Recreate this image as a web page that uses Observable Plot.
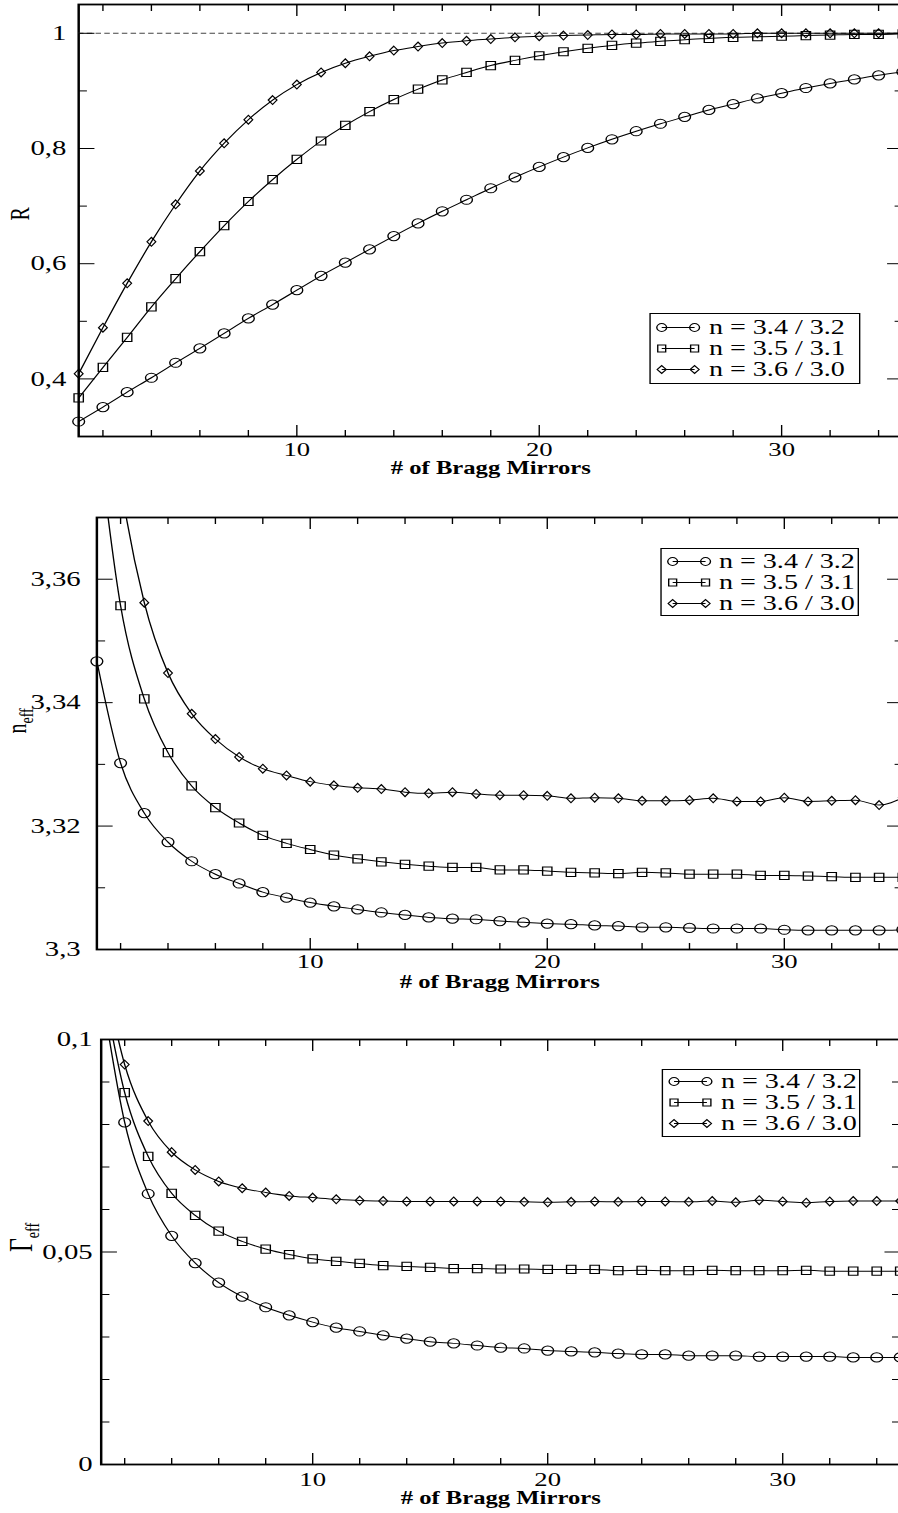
<!DOCTYPE html>
<html>
<head>
<meta charset="utf-8">
<script src="https://cdn.jsdelivr.net/npm/d3@7"></script>
<script src="https://cdn.jsdelivr.net/npm/@observablehq/plot@0.6"></script>
<style>
  html, body { margin: 0; padding: 0; background: #fff; overflow: hidden; }
  /* the whole figure is drawn narrow, then widened horizontally */
  #fig { width: 659px; transform: scaleX(1.37); transform-origin: 0 0; font-family: "Liberation Serif", serif; }
  .panel { position: relative; }
  .panel svg { display: block; }
  .legend { position: absolute; box-sizing: border-box; border: 1.3px solid #000; background: #fff;
            font-size: 20.5px; line-height: 21px; color: #000; }
  .legend .row { display: flex; align-items: center; height: 21px; white-space: nowrap; }
  .legend svg { display: block; flex: none; }
</style>
</head>
<body>
<div id="fig"></div>
<script>
const STRETCH = 1.37;
const WIDTH = 659;

// number of Bragg mirror pairs
const mirrors = [1,2,3,4,5,6,7,8,9,10,11,12,13,14,15,16,17,18,19,20,21,22,23,24,25,26,27,28,29,30,31,32,33,34,35];
const seriesLabels = ["n = 3.4 / 3.2", "n = 3.5 / 3.1", "n = 3.6 / 3.0"];

// reflectivity R
const R_34_32 = [0.326,0.351,0.377,0.402,0.428,0.453,0.479,0.505,0.529,0.554,0.579,0.602,0.625,0.648,0.670,0.691,0.711,0.731,0.750,0.768,0.785,0.801,0.816,0.830,0.843,0.855,0.867,0.877,0.887,0.896,0.905,0.913,0.920,0.927,0.933];
const R_35_31 = [0.367,0.420,0.472,0.525,0.574,0.621,0.666,0.708,0.746,0.781,0.813,0.840,0.864,0.885,0.903,0.919,0.932,0.944,0.953,0.961,0.968,0.974,0.979,0.983,0.986,0.989,0.991,0.993,0.994,0.995,0.996,0.997,0.998,0.998,0.999];
const R_36_30 = [0.409,0.489,0.566,0.638,0.703,0.761,0.809,0.850,0.884,0.911,0.932,0.948,0.960,0.970,0.977,0.983,0.987,0.990,0.993,0.995,0.996,0.997,0.998,0.998,0.999,0.999,0.999,0.999,1.000,1.000,1.000,1.000,1.000,1.000,1.000];

// effective index n_eff
const N_34_32 = [3.3467,3.3302,3.3221,3.3174,3.3143,3.3122,3.3107,3.3093,3.3084,3.3076,3.3070,3.3065,3.3060,3.3056,3.3052,3.3050,3.3049,3.3046,3.3044,3.3042,3.3041,3.3039,3.3038,3.3036,3.3036,3.3035,3.3034,3.3034,3.3034,3.3032,3.3031,3.3031,3.3031,3.3031,3.3032];
const N_35_31 = [3.385,3.3557,3.3406,3.3319,3.3265,3.3230,3.3205,3.3185,3.3172,3.3162,3.3153,3.3147,3.3142,3.3138,3.3135,3.3133,3.3133,3.3129,3.3129,3.3127,3.3125,3.3124,3.3123,3.3125,3.3124,3.3122,3.3122,3.3122,3.3120,3.3120,3.3119,3.3118,3.3117,3.3117,3.3117];
const N_36_30 = [3.41,3.3758,3.3562,3.3448,3.3382,3.3341,3.3312,3.3293,3.3282,3.3272,3.3266,3.3262,3.3260,3.3255,3.3253,3.3255,3.3252,3.3250,3.3250,3.3249,3.3245,3.3246,3.3245,3.3241,3.3241,3.3242,3.3245,3.3240,3.3240,3.3246,3.3240,3.3241,3.3242,3.3234,3.3246];

// effective confinement Gamma_eff
const G_34_32 = [0.112,0.0805,0.0637,0.0538,0.0474,0.0428,0.0395,0.0370,0.0351,0.0335,0.0322,0.0313,0.0304,0.0296,0.0289,0.0285,0.0280,0.0275,0.0273,0.0268,0.0266,0.0264,0.0261,0.0259,0.0259,0.0256,0.0256,0.0256,0.0254,0.0254,0.0254,0.0254,0.0252,0.0252,0.0252];
const G_35_31 = [0.115,0.0875,0.0725,0.0638,0.0586,0.0549,0.0525,0.0507,0.0494,0.0484,0.0478,0.0473,0.0468,0.0466,0.0464,0.0461,0.0461,0.0460,0.0460,0.0459,0.0459,0.0459,0.0456,0.0457,0.0456,0.0456,0.0457,0.0456,0.0456,0.0456,0.0457,0.0455,0.0455,0.0455,0.0455];
const G_36_30 = [0.119,0.0941,0.0808,0.0735,0.0693,0.0666,0.0650,0.0640,0.0632,0.0628,0.0624,0.0621,0.0620,0.0619,0.0619,0.0619,0.0619,0.0619,0.0618,0.0617,0.0618,0.0619,0.0618,0.0619,0.0619,0.0618,0.0620,0.0617,0.0622,0.0619,0.0616,0.0619,0.0620,0.0620,0.0620];

// tick values
const xMajor = [10, 20, 30];
const xMinor = [2, 4, 6, 8, 12, 14, 16, 18, 22, 24, 26, 28, 32, 34];
const rMajor = [0.4, 0.6, 0.8, 1];
const rMinor = [0.5, 0.7, 0.9];
const nMajor = [3.3, 3.32, 3.34, 3.36];
const nMinor = [3.31, 3.33, 3.35];
const gMajor = [0, 0.05, 0.1];
const gMinor = [0.01, 0.02, 0.03, 0.04, 0.06, 0.07, 0.08, 0.09];

const xTitle = "# of Bragg Mirrors";

// hollow marker shapes
function ellipseSym(rx, ry) {
  const k = 0.5523;
  return { draw(c) {
    c.moveTo(rx, 0);
    c.bezierCurveTo(rx, ry * k, rx * k, ry, 0, ry);
    c.bezierCurveTo(-rx * k, ry, -rx, ry * k, -rx, 0);
    c.bezierCurveTo(-rx, -ry * k, -rx * k, -ry, 0, -ry);
    c.bezierCurveTo(rx * k, -ry, rx, -ry * k, rx, 0);
    c.closePath();
  }};
}
function rectSym(hw, hh) {
  return { draw(c) { c.moveTo(-hw, -hh); c.lineTo(hw, -hh); c.lineTo(hw, hh); c.lineTo(-hw, hh); c.closePath(); } };
}
function diamondSym(hw, hh) {
  return { draw(c) { c.moveTo(0, -hh); c.lineTo(hw, 0); c.lineTo(0, hh); c.lineTo(-hw, 0); c.closePath(); } };
}
const plotSymbols = [ellipseSym(4.3, 4.6), rectSym(3.4, 4.1), diamondSym(3.2, 4.4)];
const legendSymbols = [ellipseSym(3.6, 3.9), rectSym(2.9, 3.4), diamondSym(3.3, 3.9)];

const fmtComma = d => String(d).replace(".", ",");

function drawPanel(cfg) {
  const rows = [];
  cfg.series.forEach((vals, k) => vals.forEach((v, i) => rows.push({ m: mirrors[i], v, k })));
  const [y0, y1] = cfg.yDomain;
  const visible = rows.filter(d => d.v >= y0 && d.v <= y1);

  const marks = [
    Plot.frame({ stroke: "black", strokeWidth: 1.8 }),
    cfg.refLine != null ? Plot.ruleY([cfg.refLine], { stroke: "#444", strokeWidth: 1, strokeDasharray: "4,2.4" }) : null,
    // inward ticks on all four sides
    ...["bottom", "top"].flatMap(a => [
      Plot.axisX(xMajor, { anchor: a, tickSize: -11, fill: "none", label: null }),
      Plot.axisX(xMinor, { anchor: a, tickSize: -6, fill: "none", label: null })
    ]),
    ...["left", "right"].flatMap(a => [
      Plot.axisY(cfg.yMajor, { anchor: a, tickSize: -12, fill: "none", label: null }),
      Plot.axisY(cfg.yMinor, { anchor: a, tickSize: -6.5, fill: "none", label: null })
    ]),
    // tick labels
    Plot.axisX(xMajor, { anchor: "bottom", tickSize: 0, tickPadding: cfg.xPad, fontSize: 19.5, label: null }),
    Plot.axisY(cfg.yMajor, { anchor: "left", tickSize: 0, tickPadding: cfg.yPad, tickFormat: fmtComma, fontSize: 21, label: null }),
    // curves and markers
    Plot.line(rows, { x: "m", y: "v", z: "k", curve: "monotone-x", stroke: "black", strokeWidth: 1, clip: true }),
    ...plotSymbols.map((sym, k) => Plot.dot(visible.filter(d => d.k === k),
      { x: "m", y: "v", symbol: sym, stroke: "black", fill: "none", strokeWidth: 1 })),
    // axis titles
    Plot.text([xTitle], { text: d => d, frameAnchor: "bottom", dy: cfg.titleDy, fontWeight: "bold", fontSize: 18 }),
    Plot.text([cfg.yTitle + cfg.yTitleSub], { text: d => d, frameAnchor: "left", rotate: -90, dx: cfg.yTitleDx, fontSize: cfg.yTitleSize })
  ].filter(Boolean);

  const svg = Plot.plot({
    width: WIDTH,
    height: cfg.height,
    marginTop: cfg.mt, marginBottom: cfg.mb, marginLeft: cfg.ml, marginRight: cfg.mr,
    x: { domain: [1, 35] },
    y: { domain: cfg.yDomain },
    style: { fontFamily: '"Liberation Serif", serif', color: "black", background: "white" },
    marks
  });

  // subscript on the vertical title
  if (cfg.yTitleSub) {
    for (const t of svg.querySelectorAll("text")) {
      if (t.textContent === cfg.yTitle + cfg.yTitleSub) {
        t.textContent = "";
        const main = document.createElementNS("http://www.w3.org/2000/svg", "tspan");
        main.textContent = cfg.yTitle;
        const sub = document.createElementNS("http://www.w3.org/2000/svg", "tspan");
        sub.textContent = cfg.yTitleSub;
        sub.setAttribute("font-size", "14");
        sub.setAttribute("dy", "5");
        t.append(main, sub);
      }
    }
  }

  const wrap = document.createElement("div");
  wrap.className = "panel";
  wrap.style.height = cfg.height + "px";
  wrap.append(svg);

  // legend box
  const lg = cfg.legend;
  const box = document.createElement("div");
  box.className = "legend";
  box.style.left = (lg.left / STRETCH) + "px";
  box.style.width = ((lg.right - lg.left) / STRETCH) + "px";
  box.style.top = lg.top + "px";
  box.style.height = (lg.bottom - lg.top) + "px";
  box.style.paddingTop = lg.padTop + "px";
  seriesLabels.forEach((label, k) => {
    const row = document.createElement("div");
    row.className = "row";
    const p = d3.path();
    legendSymbols[k].draw(p);
    const d = p.toString();
    const ns = "http://www.w3.org/2000/svg";
    const s = document.createElementNS(ns, "svg");
    s.setAttribute("width", 42); s.setAttribute("height", 21);
    const ln = document.createElementNS(ns, "line");
    ln.setAttribute("x1", 8); ln.setAttribute("x2", 32); ln.setAttribute("y1", 10.5); ln.setAttribute("y2", 10.5);
    ln.setAttribute("stroke", "black"); ln.setAttribute("stroke-width", 1);
    s.append(ln);
    for (const cx of [8, 32]) {
      const pa = document.createElementNS(ns, "path");
      pa.setAttribute("d", d);
      pa.setAttribute("transform", `translate(${cx},10.5)`);
      pa.setAttribute("fill", "none"); pa.setAttribute("stroke", "black"); pa.setAttribute("stroke-width", 1);
      s.append(pa);
    }
    const span = document.createElement("span");
    span.textContent = label;
    row.append(s, span);
    box.append(row);
  });
  wrap.append(box);
  document.getElementById("fig").append(wrap);
}

drawPanel({
  series: [R_34_32, R_35_31, R_36_30],
  yDomain: [0.3, 1.05], yMajor: rMajor, yMinor: rMinor, refLine: 1,
  height: 490, mt: 4, mb: 54, ml: 78 / STRETCH, mr: 0.5,
  xPad: 6, yPad: 9, titleDy: 37.5,
  yTitle: "R", yTitleSub: "", yTitleDx: -43, yTitleSize: 20,
  legend: { left: 650, right: 860, top: 313, bottom: 384, padTop: 2.7 }
});
drawPanel({
  series: [N_34_32, N_35_31, N_36_30],
  yDomain: [3.3, 3.37], yMajor: nMajor, yMinor: nMinor, refLine: null,
  height: 515, mt: 27, mb: 56, ml: 96.2 / STRETCH, mr: 0.5,
  xPad: 5, yPad: 11.8, titleDy: 38,
  yTitle: "n", yTitleSub: "eff", yTitleDx: -58, yTitleSize: 20,
  legend: { left: 660, right: 859, top: 58, bottom: 126, padTop: 1.7 }
});
drawPanel({
  series: [G_34_32, G_35_31, G_36_30],
  yDomain: [0, 0.1], yMajor: gMajor, yMinor: gMinor, refLine: null,
  height: 508, mt: 34, mb: 49, ml: 100.5 / STRETCH, mr: 2.4,
  xPad: 8, yPad: 6.2, titleDy: 39.5,
  yTitle: "Γ", yTitleSub: "eff", yTitleDx: -58, yTitleSize: 24,
  legend: { left: 662, right: 861, top: 64, bottom: 132, padTop: 1.2 }
});
</script>
</body>
</html>
